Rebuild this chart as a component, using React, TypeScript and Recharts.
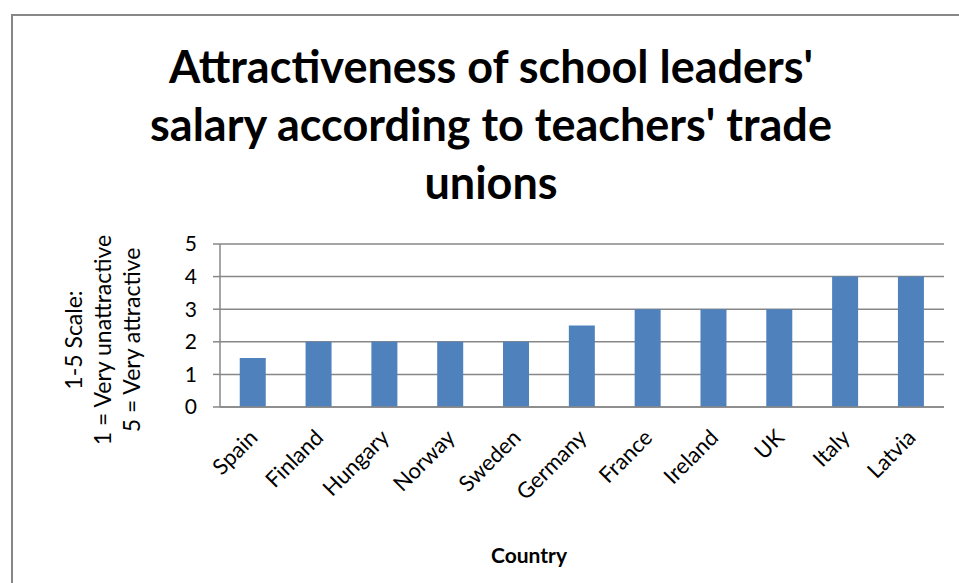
import React from "react";
import { BarChart, Bar, XAxis, YAxis, CartesianGrid } from "recharts";

const countries = ["Spain", "Finland", "Hungary", "Norway", "Sweden", "Germany", "France", "Ireland", "UK", "Italy", "Latvia"];
const scores = [1.5, 2, 2, 2, 2, 2.5, 3, 3, 3, 4, 4];
const yTicks = [0, 1, 2, 3, 4, 5];
const titleLines = ["Attractiveness of school leaders'", "salary according to teachers' trade", "unions"];
const yLabelLines = ["1-5 Scale:", "1 = Very unattractive", "5 = Very attractive"];

const data = countries.map((country, i) => ({ country, score: scores[i] }));

const FONT = "Lato, 'Open Sans', sans-serif";
const GRAY = "#878787";

function CountryTick({ x, y, payload }: any) {
    const ax = x + 6;
    const ay = y + 24;
    return (
        <text x={ax} y={ay} transform={`rotate(-45, ${ax}, ${ay})`} textAnchor="end" fontSize={22} fill="#000" fontFamily={FONT}>
            {payload.value}
        </text>
    );
}

function YLabel() {
    const cy = 340;
    return (
        <g>
            {yLabelLines.map((line, i) => {
                const cx = 82 + i * 29;
                return (
                    <text key={line} x={cx} y={cy} transform={`rotate(-90, ${cx}, ${cy})`} textAnchor="middle" fontSize={23} fill="#000" fontFamily={FONT}>
                        {line}
                    </text>
                );
            })}
        </g>
    );
}

export default function App() {
    return (
        <div style={{ position: "absolute", left: 0, top: 0, width: 959, height: 583, background: "#fff", overflow: "hidden", fontFamily: FONT }}>
            <div style={{ position: "absolute", left: 11, top: 14, width: 1000, height: 1000, border: `2px solid ${GRAY}`, boxSizing: "border-box" }} />
            {titleLines.map((line, i) => (
                <div
                    key={line}
                    style={{ position: "absolute", left: 0, width: 982, top: 40 + i * 58, textAlign: "center", fontSize: 45, fontWeight: 700, lineHeight: "52px", color: "#000" }}
                >
                    {line}
                </div>
            ))}
            <div style={{ position: "absolute", left: 0, top: 0 }}>
                <BarChart width={959} height={583} data={data} margin={{ top: 244, right: 15, bottom: 0, left: 0 }} barCategoryGap="30%">
                    <CartesianGrid vertical={false} stroke={GRAY} strokeWidth={1.5} />
                    <XAxis
                        dataKey="country"
                        height={176}
                        interval={0}
                        tickLine={false}
                        axisLine={{ stroke: GRAY, strokeWidth: 1.5 }}
                        tick={<CountryTick />}
                        label={{ value: "Country", position: "insideBottom", offset: 20, dx: -53, fontSize: 21, fontWeight: 700, fill: "#000", fontFamily: FONT }}
                    />
                    <YAxis
                        width={220}
                        domain={[0, 5]}
                        ticks={yTicks}
                        interval={0}
                        tickSize={7}
                        tickMargin={16}
                        axisLine={{ stroke: GRAY, strokeWidth: 1.5 }}
                        tickLine={{ stroke: GRAY, strokeWidth: 1.5 }}
                        tick={{ fill: "#000", fontSize: 21, fontFamily: FONT }}
                        label={<YLabel />}
                    />
                    <Bar dataKey="score" fill="#4F81BD" isAnimationActive={false} />
                </BarChart>
            </div>
        </div>
    );
}
